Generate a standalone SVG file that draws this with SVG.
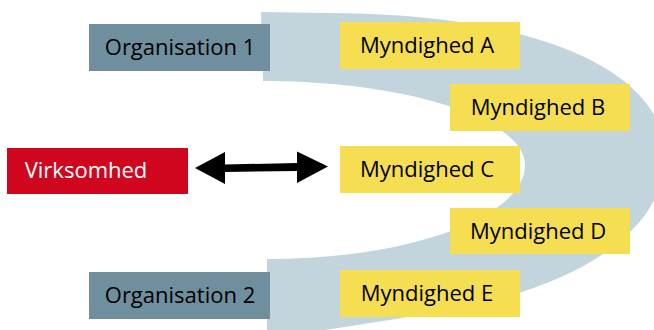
<svg xmlns="http://www.w3.org/2000/svg" width="654" height="330" viewBox="0 0 654 330">
<style>
.org{fill:#6f8f9f}
.myn{fill:#f5de52}
.vir{fill:#d0061f}
.t{font-family:"Open Sans","Liberation Sans",sans-serif;font-size:22px;fill:#000;text-anchor:middle}
.tw{fill:#fff}
</style>
<rect width="654" height="330" fill="#fff"/>
<path id="band" fill="#c2d4dc" d="M261,12 L360,13.5 C560,20 665,80 665,155 C665,240 560,290 450,310 C380,322 320,330 267,340 L267,259 C409,259 525,217 525,165 C525,119 407,81 263,81 Z"/>
<g id="connectors">
<path fill="#000" d="M195,168 L225,152 L225,164.5 L297,163 L297,151.5 L328,166.5 L297,183 L297,171 L225,172 L225,184 Z"/>
</g>
<g id="org1"><rect class="org" x="89" y="24" width="181" height="47"/><text class="t" x="180" y="55">Organisation 1</text></g>
<g id="org2"><rect class="org" x="89" y="272" width="181" height="47"/><text class="t" x="180" y="303">Organisation 2</text></g>
<g id="virksomhed"><rect class="vir" x="7" y="148" width="181" height="46"/><text class="t tw" x="86" y="178">Virksomhed</text></g>
<g id="mynA"><rect class="myn" x="340" y="22" width="180" height="47"/><text class="t" x="427" y="53">Myndighed A</text></g>
<g id="mynB"><rect class="myn" x="450" y="84" width="180" height="47"/><text class="t" x="538" y="115">Myndighed B</text></g>
<g id="mynC"><rect class="myn" x="340" y="146" width="180" height="47"/><text class="t" x="427" y="177">Myndighed C</text></g>
<g id="mynD"><rect class="myn" x="450" y="208" width="180" height="46"/><text class="t" x="538" y="239">Myndighed D</text></g>
<g id="mynE"><rect class="myn" x="340" y="270" width="180" height="47"/><text class="t" x="427" y="301">Myndighed E</text></g>
</svg>
